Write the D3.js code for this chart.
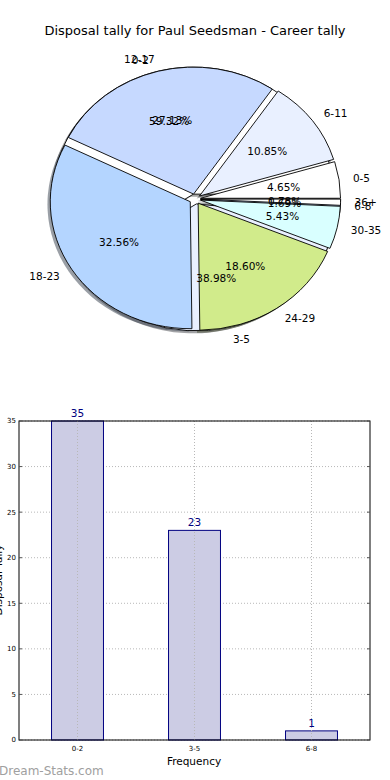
<!DOCTYPE html>
<html>
<head>
<meta charset="utf-8">
<script src="https://cdn.jsdelivr.net/npm/d3@7"></script>
<style>
  body { margin: 0; background: #fff; }
  svg { display: block; font-family: "DejaVu Sans", sans-serif; }
</style>
</head>
<body>
<script>
// disposal tally bins, two pies drawn on top of each other
const binsA = ['0-2', '3-5', '6-8'];
const countsA = [35, 23, 1];
const binsB = ['0-5', '6-11', '12-17', '18-23', '24-29', '30-35', '36+'];
const countsB = [6, 14, 35, 42, 24, 7, 1];
const pieColors = ['#ffffff', '#e9f0ff', '#c6d9ff', '#b4d5ff', '#d1eb8b', '#d9ffff'];

// histogram
const barCats = ['0-2', '3-5', '6-8'];
const barVals = [35, 23, 1];
const yTicks = [0, 5, 10, 15, 20, 25, 30, 35];

const W = 390, H = 780;
const svg = d3.select('body').append('svg')
  .attr('width', W)
  .attr('height', H);

svg.append('text')
  .attr('x', 195)
  .attr('y', 35)
  .attr('text-anchor', 'middle')
  .style('font-size', '13px')
  .text('Disposal tally for Paul Seedsman - Career tally');

// ---- pie ----
const cx = 195, cy = 199, rx = 140, ry = 127, explode = 0.04;

const pie = d3.pie()
  .sort(null)
  .startAngle(Math.PI / 2)
  .endAngle(Math.PI / 2 - 2 * Math.PI);
const arc = d3.arc().innerRadius(0).outerRadius(1);

function layout(bins, counts) {
  const total = d3.sum(counts);
  return pie(counts).map((d, i) => {
    const m = (d.startAngle + d.endAngle) / 2;
    return {
      arc: d,
      name: bins[i],
      pct: (counts[i] / total * 100).toFixed(2) + '%',
      color: pieColors[i % pieColors.length],
      sx: Math.sin(m),
      sy: -Math.cos(m),
      ox: explode * rx * Math.sin(m),
      oy: -explode * ry * Math.cos(m)
    };
  });
}

const slicesA = layout(binsA, countsA);
const slicesB = layout(binsB, countsB);
const all = slicesA.concat(slicesB);

const shade = c => {
  const k = d3.rgb(c);
  return d3.rgb(k.r * 0.3, k.g * 0.3, k.b * 0.3).toString();
};

// shadows first
svg.append('g').selectAll('path')
  .data(all)
  .enter().append('path')
  .attr('d', d => arc(d.arc))
  .attr('transform', d => `translate(${cx + d.ox - 2.8},${cy + d.oy + 2.5}) scale(${rx},${ry})`)
  .attr('fill', d => shade(d.color))
  .attr('opacity', 0.5);

function drawWedges(slices) {
  svg.append('g').selectAll('path')
    .data(slices)
    .enter().append('path')
    .attr('d', d => arc(d.arc))
    .attr('transform', d => `translate(${cx + d.ox},${cy + d.oy}) scale(${rx},${ry})`)
    .attr('fill', d => d.color)
    .attr('stroke', '#000')
    .attr('stroke-width', 0.9)
    .attr('vector-effect', 'non-scaling-stroke');
}
drawWedges(slicesA);
drawWedges(slicesB);

function drawLabels(slices) {
  const g = svg.append('g').style('font-size', '10.5px');
  g.selectAll('text.lab')
    .data(slices)
    .enter().append('text')
    .attr('class', 'lab')
    .attr('x', d => cx + d.ox + 1.1 * rx * d.sx)
    .attr('y', d => cy + d.oy + 1.1 * ry * d.sy)
    .attr('dy', '0.35em')
    .attr('text-anchor', d => d.sx < 0 ? 'end' : 'start')
    .text(d => d.name);
  g.selectAll('text.pct')
    .data(slices)
    .enter().append('text')
    .attr('class', 'pct')
    .attr('x', d => cx + d.ox + 0.6 * rx * d.sx)
    .attr('y', d => cy + d.oy + 0.6 * ry * d.sy)
    .attr('dy', '0.35em')
    .attr('text-anchor', 'middle')
    .text(d => d.pct);
}
drawLabels(slicesA);
drawLabels(slicesB);

// ---- bar chart ----
const plotL = 19, plotR = 370, plotT = 421, plotB = 740;

const x = d3.scaleBand()
  .domain(barCats)
  .range([plotL, plotR])
  .paddingInner(0.556)
  .paddingOuter(0.278);
const y = d3.scaleLinear()
  .domain([0, 35])
  .range([plotB, plotT]);

const grid = svg.append('g')
  .attr('stroke', '#b8b8b8')
  .attr('stroke-width', 1)
  .attr('stroke-dasharray', '1,2');
grid.selectAll('line.h')
  .data(yTicks)
  .enter().append('line')
  .attr('x1', plotL).attr('x2', plotR)
  .attr('y1', d => y(d)).attr('y2', d => y(d));

svg.append('g').selectAll('rect')
  .data(barVals)
  .enter().append('rect')
  .attr('x', (d, i) => x(barCats[i]))
  .attr('y', d => y(d))
  .attr('width', x.bandwidth())
  .attr('height', d => plotB - y(d))
  .attr('fill', '#ccccE4')
  .attr('stroke', '#000080')
  .attr('stroke-width', 1);

const gridV = svg.append('g')
  .attr('stroke', '#b8b8b8')
  .attr('stroke-width', 1)
  .attr('stroke-dasharray', '1,2');
gridV.selectAll('line')
  .data(barCats)
  .enter().append('line')
  .attr('x1', d => x(d) + x.bandwidth() / 2)
  .attr('x2', d => x(d) + x.bandwidth() / 2)
  .attr('y1', plotT).attr('y2', plotB);

// value labels
svg.append('g').selectAll('text')
  .data(barVals)
  .enter().append('text')
  .attr('x', (d, i) => x(barCats[i]) + x.bandwidth() / 2)
  .attr('y', d => y(d) - 4)
  .attr('text-anchor', 'middle')
  .attr('fill', '#000080')
  .style('font-size', '10.5px')
  .text(d => d);

// frame
svg.append('rect')
  .attr('x', plotL).attr('y', plotT)
  .attr('width', plotR - plotL).attr('height', plotB - plotT)
  .attr('fill', 'none')
  .attr('stroke', '#000')
  .attr('stroke-width', 1);

// y ticks (both sides, inward)
const yt = svg.append('g').attr('stroke', '#555').attr('stroke-width', 1);
yTicks.forEach(t => {
  yt.append('line').attr('x1', plotL).attr('x2', plotL + 3).attr('y1', y(t)).attr('y2', y(t));
  yt.append('line').attr('x1', plotR).attr('x2', plotR - 3).attr('y1', y(t)).attr('y2', y(t));
});
svg.append('g').selectAll('text')
  .data(yTicks)
  .enter().append('text')
  .attr('x', plotL - 3)
  .attr('y', d => y(d))
  .attr('dy', '0.35em')
  .attr('text-anchor', 'end')
  .style('font-size', '7px')
  .text(d => d);

// x tick labels
svg.append('g').selectAll('text')
  .data(barCats)
  .enter().append('text')
  .attr('x', d => x(d) + x.bandwidth() / 2)
  .attr('y', 751)
  .attr('text-anchor', 'middle')
  .style('font-size', '7px')
  .text(d => d);

svg.append('text')
  .attr('x', 194)
  .attr('y', 765)
  .attr('text-anchor', 'middle')
  .style('font-size', '10.5px')
  .text('Frequency');

svg.append('text')
  .attr('transform', 'translate(2,580) rotate(-90)')
  .attr('text-anchor', 'middle')
  .style('font-size', '10.5px')
  .text('Disposal Tally');

svg.append('text')
  .attr('x', -1)
  .attr('y', 775)
  .attr('fill', '#a0a0a0')
  .style('font-size', '12px')
  .text('Dream-Stats.com');
</script>
</body>
</html>
